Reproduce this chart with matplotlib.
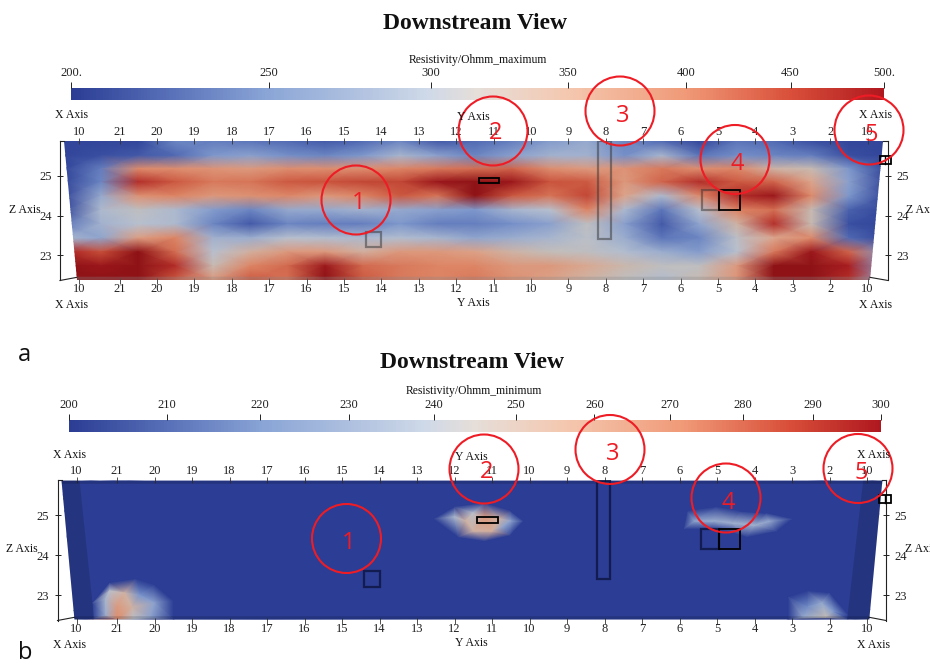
import numpy as np
import matplotlib
matplotlib.use('Agg')
import matplotlib.pyplot as plt
from matplotlib.cm import ScalarMappable
from matplotlib.colors import LinearSegmentedColormap, LogNorm
from matplotlib.patches import Circle, Polygon, Rectangle
from matplotlib.ticker import NullLocator
from matplotlib.tri import Triangulation

SERIF = 'Liberation Serif'
SANS = 'Open Sans'
W, H = 930, 664

# station labels along the section (left to right) and their positions
station_labels = ['10', '21', '20', '19', '18', '17', '16', '15', '14', '13', '12',
                  '11', '10', '9', '8', '7', '6', '5', '4', '3', '2', '10']
station_pos = [-1.08, 0, 1, 2, 3, 4, 5, 6, 7, 8, 9, 10, 11, 12, 13, 14, 15, 16, 17, 18, 19, 20]
z_ticks = [23, 24, 25]

max_ticks = [200, 250, 300, 350, 400, 450, 500]
max_tick_labels = ['200.', '250', '300', '350', '400', '450', '500.']
min_ticks = [200, 210, 220, 230, 240, 250, 260, 270, 280, 290, 300]
min_tick_labels = ['200', '210', '220', '230', '240', '250', '260', '270', '280', '290', '300']

# resistivity maximum, read on a coarse grid
grid_x = [-1.5, -0.5, 0.5, 1.5, 2.5, 3.5, 4.5, 5.5, 6.5, 7.5, 8.5, 9.5,
          10.5, 11.5, 12.5, 13.5, 14.5, 15.5, 16.5, 17.5, 18.5, 19.5, 20.5]
grid_z = [25.86, 25.5, 25.17, 24.84, 24.49, 24.14, 23.79, 23.44, 23.09, 22.74, 22.39]
res_max = [
    [205, 205, 205, 240, 235, 230, 225, 215, 225, 240, 215, 225, 235, 255, 270, 240, 225, 205, 230, 225, 210, 205, 205],
    [205, 210, 215, 225, 250, 260, 245, 240, 250, 285, 260, 240, 260, 280, 280, 245, 285, 230, 245, 240, 235, 210, 205],
    [205, 235, 390, 385, 375, 365, 385, 385, 385, 395, 410, 420, 430, 385, 365, 375, 410, 385, 395, 330, 320, 250, 205],
    [205, 240, 470, 440, 410, 415, 440, 445, 455, 455, 490, 500, 490, 445, 440, 370, 430, 470, 440, 430, 350, 260, 205],
    [205, 270, 380, 400, 370, 380, 395, 370, 400, 440, 415, 500, 440, 415, 455, 350, 290, 390, 470, 490, 390, 250, 205],
    [205, 290, 310, 290, 255, 240, 270, 270, 280, 270, 260, 250, 285, 300, 400, 290, 230, 300, 400, 420, 320, 220, 205],
    [230, 280, 300, 290, 240, 215, 240, 235, 235, 250, 235, 235, 245, 260, 310, 260, 215, 265, 330, 470, 320, 210, 205],
    [285, 265, 360, 400, 280, 275, 300, 295, 290, 295, 285, 265, 275, 285, 305, 275, 230, 240, 305, 350, 390, 225, 205],
    [480, 450, 500, 420, 300, 335, 370, 370, 335, 370, 370, 355, 330, 315, 310, 295, 275, 255, 300, 410, 490, 430, 250],
    [500, 490, 500, 470, 320, 400, 425, 490, 425, 410, 400, 400, 370, 370, 345, 325, 310, 310, 365, 500, 500, 480, 260],
    [500, 500, 500, 440, 370, 440, 420, 500, 440, 410, 400, 410, 380, 355, 330, 310, 295, 320, 375, 500, 500, 470, 270],
]

# resistivity minimum, mostly flat at 200 with four patches
patch_x = [-2, 21, -2, 21,
           -0.65, -0.65, -0.2, 0.5, 1.0, 1.5, 1.5, -0.3, -0.2, 0.2, 0.4, 0.0, 0.0, -0.3, 0.45, 1.0, 0.9, 0.6,
           8.45, 9.0, 9.8, 10.5, 10.85, 10.5, 9.8, 9.1, 9.0, 9.3, 9.5, 9.8, 10.0, 10.2, 10.5, 9.5, 10.3,
           14.7, 15.2, 16.0, 16.6, 17.3, 18.0, 17.6, 16.8, 16.3, 15.8, 15.1, 15.4, 15.9, 16.4, 17.0, 17.4,
           17.9, 17.9, 18.4, 19.0, 19.5, 19.5, 18.4, 18.8, 18.9, 18.3, 19.1]
patch_z = [22.3, 22.3, 26, 26,
           22.4, 22.8, 23.3, 23.4, 23.25, 22.85, 22.4, 22.9, 23.1, 23.05, 22.7, 22.4, 22.7, 22.5, 22.4, 22.8, 22.45, 23.0,
           24.9, 25.2, 25.3, 25.1, 24.85, 24.5, 24.35, 24.45, 24.95, 24.85, 25.05, 24.95, 24.6, 24.9, 24.85, 24.6, 24.7,
           24.9, 25.1, 25.2, 25.1, 25.05, 24.9, 24.6, 24.45, 24.6, 24.65, 24.65, 24.85, 24.85, 24.8, 24.75, 24.85,
           22.4, 22.95, 23.1, 23.05, 22.5, 22.4, 22.7, 22.8, 22.45, 22.45, 22.6]
patch_v = [200, 200, 200, 200,
           200, 200, 200, 200, 200, 200, 200, 235, 240, 250, 250, 268, 262, 230, 240, 225, 225, 220,
           200, 200, 200, 200, 200, 200, 200, 200, 235, 250, 240, 262, 252, 250, 225, 250, 225,
           200, 200, 200, 200, 200, 200, 200, 200, 200, 200, 200, 226, 230, 232, 232, 228,
           200, 200, 200, 200, 200, 200, 218, 228, 245, 228, 222]

# structures in the section: x0, x1, z0, z1
solid_boxes = [(9.61, 10.15, 24.81, 24.94), (16.04, 16.6, 24.14, 24.64), (20.33, 20.63, 25.29, 25.49)]
faint_boxes = [(15.58, 16.04, 24.14, 24.64), (12.8, 13.15, 23.41, 25.86), (6.58, 7.0, 23.21, 23.59)]

field_outline = [(-1.48, 25.86), (20.41, 25.86), (20.06, 22.39), (-1.135, 22.39)]

cmap = LinearSegmentedColormap.from_list('res', [
    (0.0, '#2b3d94'), (0.12, '#5870b8'), (0.24, '#8aa5d6'), (0.44, '#cfd9e8'),
    (0.5, '#e6ded9'), (0.61, '#f4c8b0'), (0.756, '#f09a78'), (0.885, '#d9503a'),
    (1.0, '#b0181f')])
# the lit surface is a little greyer and darker than the bar
field_cmap = LinearSegmentedColormap.from_list('field', [
    (0.0, '#2b3d94'), (0.12, '#4f68b2'), (0.24, '#7d97cc'), (0.44, '#b7c0cf'),
    (0.5, '#c4bdb7'), (0.61, '#dca58c'), (0.756, '#dd8565'), (0.885, '#c8503a'),
    (0.96, '#a81c20'), (1.0, '#8e1216')])


def px_axes(fig, x0, y0, x1, y1):
    return fig.add_axes([x0 / W, 1 - y1 / H, (x1 - x0) / W, (y1 - y0) / H])


def draw_colorbar(fig, box, norm, ticks, labels):
    cax = px_axes(fig, *box)
    cb = fig.colorbar(ScalarMappable(norm=norm, cmap=cmap), cax=cax, orientation='horizontal')
    cb.outline.set_visible(False)
    cax.xaxis.set_ticks_position('top')
    cax.set_xticks(ticks)
    cax.set_xticklabels(labels, family=SERIF, fontsize=9, color='#222222')
    cax.xaxis.set_minor_locator(NullLocator())
    cax.tick_params(axis='x', direction='out', length=4.5, width=0.7, pad=1.7, color='#222222')


def draw_panel(fig, box, x21, z25, step):
    x0, y0, x1, y1 = box
    ax = px_axes(fig, x0, y0, x1, y1)
    ax.set_xlim((x0 - x21) / step, (x1 - x21) / step)
    ax.set_ylim(25 - (y1 - z25) / 40, 25 - (y0 - z25) / 40)
    ax.set_xticks(station_pos)
    ax.set_xticklabels(station_labels, family=SERIF, fontsize=9, color='#222222')
    ax.set_yticks(z_ticks)
    ax.set_yticklabels([str(z) for z in z_ticks], family=SERIF, fontsize=9, color='#222222')
    ax.tick_params(axis='x', top=True, labeltop=True, bottom=True, direction='inout',
                   length=4, width=0.6, pad=0, color='#333333')
    ax.tick_params(axis='y', left=True, right=True, labelright=True, direction='inout',
                   length=5, width=0.7, pad=3.5, color='#222222')
    ax.spines['top'].set_visible(False)
    ax.spines['bottom'].set_visible(False)
    for side in ['left', 'right']:
        ax.spines[side].set_linewidth(0.8)
        ax.spines[side].set_color('#222222')
    xl, xr = ax.get_xlim()
    zb, zt = ax.get_ylim()
    ax.plot([xl, -1.135], [zb, zb + 0.08], color='#222222', lw=0.8, clip_on=False)
    ax.plot([xr, 20.06], [zb, zb + 0.08], color='#222222', lw=0.8, clip_on=False)
    ax.plot([xl, -1.48], [zt, zt], color='#222222', lw=0.8, clip_on=False)
    ax.plot([xr, 20.41], [zt, zt], color='#222222', lw=0.8, clip_on=False)
    return ax


def draw_boxes(ax, faint_color, faint_alpha):
    for b in faint_boxes:
        ax.add_patch(Rectangle((b[0], b[2]), b[1] - b[0], b[3] - b[2], fill=False,
                               ec=faint_color, alpha=faint_alpha, lw=1.6, zorder=4))
    for b in solid_boxes:
        ax.add_patch(Rectangle((b[0], b[2]), b[1] - b[0], b[3] - b[2], fill=False,
                               ec='black', lw=1.3, zorder=5, clip_on=False))
    ax.plot([20.48, 20.48], [25.29, 25.49], color='black', lw=1.0, zorder=5, clip_on=False)


def shade_edges(ax, alpha):
    shades = [
        [(-1.48, 25.86), (-1.0, 25.86), (-0.61, 22.39), (-1.135, 22.39)],
        [(19.9, 25.86), (20.41, 25.86), (20.06, 22.39), (19.47, 22.39)],
        [(-1.48, 25.86), (20.41, 25.86), (20.4, 25.78), (-1.47, 25.78)],
        [(-1.135, 22.39), (20.06, 22.39), (20.07, 22.47), (-1.14, 22.47)],
    ]
    for s in shades:
        ax.add_patch(Polygon(s, closed=True, fc='black', ec='none', alpha=alpha, zorder=3))


fig = plt.figure(figsize=(W / 100, H / 100), dpi=100)

# panel a: maximum
norm_max = LogNorm(vmin=200, vmax=500)
draw_colorbar(fig, (71, 88, 884, 100), norm_max, max_ticks, max_tick_labels)
ax_a = draw_panel(fig, (60, 141, 888, 280.5), 119.5, 175.5, 37.4)
mesh = ax_a.pcolormesh(grid_x, grid_z, np.array(res_max, dtype=float), cmap=field_cmap, norm=norm_max, shading='gouraud')
mesh.set_clip_path(Polygon(field_outline, closed=True, transform=ax_a.transData))
ax_a.add_patch(Polygon(field_outline[2:] + [(-1.14, 22.47), (20.07, 22.47)], closed=True, fc='#888888', ec='none', alpha=0.3, zorder=3))
draw_boxes(ax_a, '#333333', 0.5)

# panel b: minimum
norm_min = LogNorm(vmin=200, vmax=300)
draw_colorbar(fig, (69, 420, 881, 432), norm_min, min_ticks, min_tick_labels)
ax_b = draw_panel(fig, (57.5, 480, 886, 620.5), 117, 515, 37.5)
tri = Triangulation(patch_x, patch_z)
pc = ax_b.tripcolor(tri, np.array(patch_v, dtype=float), cmap=field_cmap, norm=norm_min, shading='gouraud')
pc.set_clip_path(Polygon(field_outline, closed=True, transform=ax_b.transData))
shade_edges(ax_b, 0.14)
draw_boxes(ax_b, '#0c1440', 0.8)

# text and call-outs, placed in pixels
over = fig.add_axes([0, 0, 1, 1], facecolor='none', zorder=10)
over.set_xlim(0, W)
over.set_ylim(H, 0)
over.axis('off')

texts = [
    ('Downstream View', 475, 23.5, 17, 'bold'), ('Downstream View', 472, 362.5, 17, 'bold'),
    ('Resistivity/Ohmm_maximum', 478, 60, 8.4, 'normal'), ('Resistivity/Ohmm_minimum', 474, 391, 8.4, 'normal'),
    ('X Axis', 71.5, 115.5, 8.5, 'normal'), ('X Axis', 875, 115.5, 8.5, 'normal'), ('Y Axis', 473, 117.5, 8.5, 'normal'),
    ('X Axis', 71.5, 304.5, 8.5, 'normal'), ('X Axis', 875, 304.5, 8.5, 'normal'), ('Y Axis', 473, 302.5, 8.5, 'normal'),
    ('Z Axis', 25, 210, 8.5, 'normal'), ('Z Axis', 922, 210, 8.5, 'normal'),
    ('X Axis', 69, 454.5, 8.5, 'normal'), ('X Axis', 873, 454.5, 8.5, 'normal'), ('Y Axis', 471, 456.5, 8.5, 'normal'),
    ('X Axis', 69, 644.5, 8.5, 'normal'), ('X Axis', 873, 644.5, 8.5, 'normal'), ('Y Axis', 471, 642.5, 8.5, 'normal'),
    ('Z Axis', 22, 549, 8.5, 'normal'), ('Z Axis', 921, 549, 8.5, 'normal'),
]
for s, x, y, size, weight in texts:
    over.text(x, y, s, family=SERIF, fontsize=size, weight=weight, ha='center', va='center', color='#111111')

over.text(24, 355, 'a', family=SANS, fontsize=17, ha='center', va='center', color='#111111')
over.text(25, 653, 'b', family=SANS, fontsize=17, ha='center', va='center', color='#111111')

circles = [(356, 200, '1', 359, 203), (493, 131, '2', 496, 133), (620, 111, '3', 623, 116),
           (735, 159.5, '4', 737, 164), (869, 130, '5', 871, 135),
           (346.5, 538.5, '1', 349, 543), (484, 469, '2', 487, 472), (610, 449.5, '3', 613, 454),
           (726, 498, '4', 728, 503), (858, 468.5, '5', 861, 473)]
for cx, cy, s, tx, ty in circles:
    over.add_patch(Circle((cx, cy), 34.5, fill=False, ec='#ee1c25', lw=1.5))
    over.text(tx, ty, s, family=SANS, fontsize=17, ha='center', va='center', color='#ee1c25')

fig.savefig('out.png', dpi=100)
